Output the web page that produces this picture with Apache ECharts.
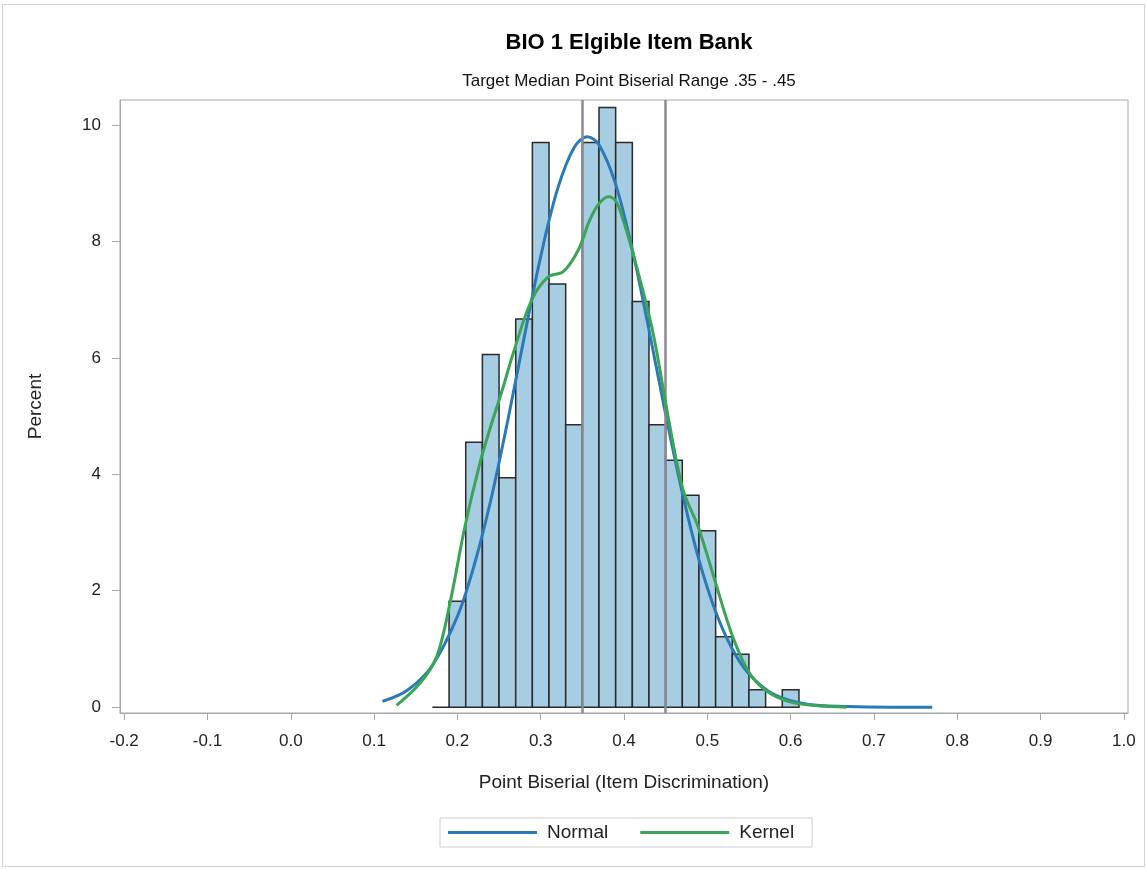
<!DOCTYPE html>
<html lang="en">
<head>
<meta charset="UTF-8">
<title>BIO 1 Elgible Item Bank</title>
<script src="https://cdn.jsdelivr.net/npm/echarts@6/dist/echarts.min.js"></script>
<style>
    html, body { margin: 0; padding: 0; background: #fff; }
    #container { position: absolute; left: 0; top: 0; width: 1147px; height: 869px; }
    #frame { position: absolute; left: 2px; top: 4px; width: 1141px; height: 861px; border: 1px solid #d4d4d4; pointer-events: none; }
</style>
</head>
<body>
<div id="container"></div>
<div id="frame"></div>
<script>
// histogram bins (midpoints, width .02) and percent of items
var binMid = [0.18, 0.20, 0.22, 0.24, 0.26, 0.28, 0.30, 0.32, 0.34, 0.36, 0.38,
              0.40, 0.42, 0.44, 0.46, 0.48, 0.50, 0.52, 0.54, 0.56, 0.58, 0.60];
var binPct = [0, 1.82, 4.55, 6.06, 3.94, 6.67, 9.70, 7.27, 4.85, 9.70, 10.30,
              9.70, 6.97, 4.85, 4.24, 3.64, 3.03, 1.21, 0.91, 0.30, 0, 0.30];
var binWidth = 0.02;

// normal density curve
var normX = [0.11, 0.14, 0.17, 0.20, 0.22, 0.24, 0.26, 0.28, 0.30, 0.32, 0.34, 0.356,
             0.37, 0.39, 0.41, 0.43, 0.45, 0.47, 0.49, 0.51, 0.53, 0.55, 0.58, 0.62, 0.67, 0.72, 0.77];
var normY = [0.10, 0.29, 0.72, 1.56, 2.43, 3.55, 4.89, 6.34, 7.74, 8.89, 9.61, 9.80,
             9.66, 8.98, 7.86, 6.48, 5.03, 3.68, 2.53, 1.64, 1.00, 0.57, 0.22, 0.05, 0.01, 0, 0];

// kernel density curve
var kernX = [0.127, 0.155, 0.175, 0.191, 0.209, 0.227, 0.241, 0.255, 0.267, 0.289, 0.309, 0.327,
             0.345, 0.359, 0.370, 0.381, 0.390, 0.399, 0.415, 0.435, 0.453, 0.471, 0.489, 0.509,
             0.529, 0.549, 0.569, 0.599, 0.630, 0.667];
var kernY = [0.03, 0.41, 0.86, 1.78, 3.10, 4.19, 4.87, 5.50, 6.08, 6.99, 7.39, 7.48,
             7.85, 8.37, 8.65, 8.77, 8.70, 8.37, 7.57, 6.42, 4.99, 3.73, 3.10, 2.18,
             1.27, 0.62, 0.30, 0.09, 0.03, 0];

var xTicks = [-0.2, -0.1, 0, 0.1, 0.2, 0.3, 0.4, 0.5, 0.6, 0.7, 0.8, 0.9, 1.0];
var yTicks = [0, 2, 4, 6, 8, 10];
var refLines = [0.35, 0.45];

var font = "'Liberation Sans', Arial, sans-serif";

function pairs(xs, ys) {
    var out = [];
    for (var i = 0; i < xs.length; i++) out.push([xs[i], ys[i]]);
    return out;
}

var myChart = echarts.init(document.getElementById('container'));

var option = {
    animation: false,
    title: [{
        text: 'BIO 1 Elgible Item Bank',
        left: 624, top: 27, textAlign: 'center',
        textStyle: { fontFamily: font, fontSize: 22, fontWeight: 'bold', color: '#000' }
    }, {
        text: 'Target Median Point Biserial Range .35 - .45',
        left: 624, top: 68, textAlign: 'center',
        textStyle: { fontFamily: font, fontSize: 17, fontWeight: 'normal', color: '#111' }
    }],
    grid: {
        show: true,
        left: 120, top: 100, right: 19, bottom: 156,
        borderColor: '#a8a8a8', borderWidth: 1
    },
    legend: {
        left: 440, top: 818,
        data: [{ name: 'Normal', icon: 'rect' }, { name: 'Kernel', icon: 'rect' }],
        itemWidth: 89, itemHeight: 3, itemGap: 32,
        borderColor: '#cfcfcf', borderWidth: 1,
        padding: [5, 18, 5, 8],
        textStyle: { fontFamily: font, fontSize: 19, color: '#222', width: 68, padding: [0, 0, 0, 5] }
    },
    xAxis: {
        type: 'value',
        min: -0.205, max: 1.005,
        name: 'Point Biserial (Item Discrimination)',
        nameLocation: 'middle', nameGap: 60,
        nameTextStyle: { fontFamily: font, fontSize: 19, color: '#222' },
        axisLine: { onZero: false, lineStyle: { color: '#a8a8a8' } },
        axisTick: { customValues: xTicks, length: 7, lineStyle: { color: '#a8a8a8' } },
        axisLabel: {
            customValues: xTicks, margin: 20,
            fontFamily: font, fontSize: 17, color: '#222',
            formatter: function (v) { return v.toFixed(1); }
        },
        splitLine: { show: false }
    },
    yAxis: {
        type: 'value',
        min: -0.1, max: 10.43,
        name: 'Percent',
        nameLocation: 'middle', nameGap: 75,
        nameTextStyle: { fontFamily: font, fontSize: 19, color: '#222' },
        axisLine: { show: true, onZero: false, lineStyle: { color: '#a8a8a8' } },
        axisTick: { show: true, customValues: yTicks, length: 8, lineStyle: { color: '#a8a8a8' } },
        axisLabel: {
            customValues: yTicks, margin: 19,
            fontFamily: font, fontSize: 17, color: '#222'
        },
        splitLine: { show: false }
    },
    series: [{
        type: 'custom',
        name: 'Histogram',
        data: pairs(binMid, binPct),
        z: 2,
        renderItem: function (params, api) {
            var c = api.value(0), v = api.value(1);
            var p0 = api.coord([c - binWidth / 2, v]);
            var p1 = api.coord([c + binWidth / 2, 0]);
            return {
                type: 'rect',
                shape: { x: p0[0], y: p0[1], width: p1[0] - p0[0], height: p1[1] - p0[1] },
                style: { fill: '#a7cde3', stroke: '#2a2a2a', lineWidth: 1.5 }
            };
        },
        markLine: {
            silent: true,
            symbol: 'none',
            label: { show: false },
            lineStyle: { color: '#8a8a94', width: 2.5, type: 'solid' },
            data: refLines.map(function (x) { return { xAxis: x }; })
        }
    }, {
        type: 'line',
        name: 'Normal',
        data: pairs(normX, normY),
        smooth: 0.35,
        symbol: 'none',
        z: 4,
        lineStyle: { color: '#2a7ab9', width: 3 },
        itemStyle: { color: '#2a7ab9' }
    }, {
        type: 'line',
        name: 'Kernel',
        data: pairs(kernX, kernY),
        smooth: 0.35,
        symbol: 'none',
        z: 5,
        lineStyle: { color: '#3aa556', width: 3 },
        itemStyle: { color: '#3aa556' }
    }]
};

myChart.setOption(option);

window.onresize = function () {
    myChart.resize();
};
</script>
</body>
</html>
